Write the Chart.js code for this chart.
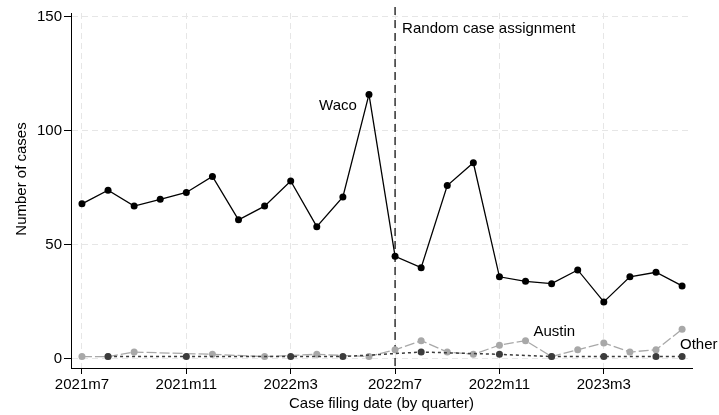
<!DOCTYPE html>
<html>
<head>
    <meta charset="utf-8" />
    <title>Number of cases by filing date</title>
    <script src="https://cdn.jsdelivr.net/npm/chart.js"></script>
    <style>
        body {
            margin: 0;
            padding: 0;
            background: white;
        }
    </style>
</head>
<body>
    <canvas id="grafico" width="719" height="415"></canvas>
    <script>
        // meses 2021m7 .. 2023m6 (posicion x = indice)
        const months = ['2021m7','2021m8','2021m9','2021m10','2021m11','2021m12',
                        '2022m1','2022m2','2022m3','2022m4','2022m5','2022m6',
                        '2022m7','2022m8','2022m9','2022m10','2022m11','2022m12',
                        '2023m1','2023m2','2023m3','2023m4','2023m5','2023m6'];
        const waco   = [68, 74, 67, 70, 73, 80, 61, 67, 78, 58, 71, 116,
                        45, 40, 76, 86, 36, 34, 33, 39, 25, 36, 38, 32];
        const austin = [1, 1, 3, null, null, 2, null, 1, null, 2, null, 1,
                        4, 8, 3, 2, 6, 8, 1, 4, 7, 3, 4, 13];
        const other  = [null, 1, null, null, 1, null, null, null, 1, null, 1, null,
                        null, 3, null, null, 2, null, 1, null, 1, null, 1, 1];
        const xTicks = [0, 4, 8, 12, 16, 20];
        const yTicks = [0, 50, 100, 150];
        const cutoff = 12; // 2022m7

        const font = 'Arial, "Liberation Sans", sans-serif';
        const toPoints = arr => arr.map((v, i) => ({ x: i, y: v }));

        const anotaciones = {
            id: 'anotaciones',
            beforeDatasetsDraw(chart) {
                const { ctx, chartArea, scales } = chart;
                const x = scales.x.getPixelForValue(cutoff);
                ctx.save();
                ctx.strokeStyle = '#000';
                ctx.lineWidth = 1.2;
                ctx.setLineDash([8, 5]);
                ctx.beginPath();
                ctx.moveTo(x, 7);
                ctx.lineTo(x, chartArea.bottom);
                ctx.stroke();
                ctx.restore();
            },
            afterDraw(chart) {
                const { ctx, scales } = chart;
                const sx = scales.x, sy = scales.y;
                ctx.save();
                ctx.fillStyle = '#000';
                ctx.font = '15px ' + font;
                ctx.textBaseline = 'middle';

                ctx.textAlign = 'left';
                ctx.fillText('Random case assignment', sx.getPixelForValue(12.27), sy.getPixelForValue(144.7));
                ctx.textAlign = 'center';
                ctx.fillText('Waco', sx.getPixelForValue(9.81), sy.getPixelForValue(111));
                ctx.fillText('Austin', sx.getPixelForValue(18.1), sy.getPixelForValue(11.8));
                ctx.textAlign = 'left';
                ctx.fillText('Other', sx.getPixelForValue(22.92), sy.getPixelForValue(6.1));

                // titulo eje y
                ctx.translate(22, 179);
                ctx.rotate(-Math.PI / 2);
                ctx.textAlign = 'center';
                ctx.fillText('Number of cases', 0, 0);
                ctx.restore();
            }
        };

        const ctx = document.getElementById('grafico').getContext('2d');
        new Chart(ctx, {
            type: 'line',
            data: {
                datasets: [
                    {
                        label: 'Waco',
                        data: toPoints(waco),
                        borderColor: '#000',
                        backgroundColor: '#000',
                        borderWidth: 1.3,
                        pointRadius: 3.5,
                        pointBorderWidth: 0,
                        order: 0
                    },
                    {
                        label: 'Other',
                        data: toPoints(other),
                        borderColor: '#3c3c3c',
                        backgroundColor: '#3c3c3c',
                        borderWidth: 1.5,
                        borderDash: [3, 3],
                        pointRadius: 3.5,
                        pointBorderWidth: 0,
                        spanGaps: true,
                        order: 1
                    },
                    {
                        label: 'Austin',
                        data: toPoints(austin),
                        borderColor: '#a8a8a8',
                        backgroundColor: '#a8a8a8',
                        borderWidth: 1.3,
                        borderDash: [10, 3],
                        pointRadius: 3.5,
                        pointBorderWidth: 0,
                        spanGaps: true,
                        order: 2
                    }
                ]
            },
            options: {
                responsive: false,
                animation: false,
                layout: { padding: { top: 13, right: 27, left: 0, bottom: 0 } },
                plugins: {
                    legend: { display: false },
                    tooltip: { enabled: false }
                },
                scales: {
                    x: {
                        type: 'linear',
                        min: -0.42,
                        max: 23.38,
                        afterFit: s => { s.height = 47; },
                        afterBuildTicks: s => { s.ticks = xTicks.map(v => ({ value: v })); },
                        grid: {
                            color: '#e6e6e6',
                            lineWidth: 1,
                            tickColor: '#000',
                            tickLength: 6,
                            tickWidth: 1
                        },
                        border: { display: true, color: '#000', width: 1, dash: [6, 4] },
                        ticks: {
                            color: '#000',
                            padding: 2,
                            maxRotation: 0,
                            autoSkip: false,
                            font: { family: font, size: 15 },
                            callback: v => months[v]
                        },
                        title: {
                            display: true,
                            text: 'Case filing date (by quarter)',
                            color: '#000',
                            font: { family: font, size: 15 },
                            padding: { top: 0, bottom: 2 }
                        }
                    },
                    y: {
                        min: -4,
                        max: 151.7,
                        afterFit: s => { s.width = 71; },
                        afterBuildTicks: s => { s.ticks = yTicks.map(v => ({ value: v })); },
                        grid: {
                            color: '#e6e6e6',
                            lineWidth: 1,
                            tickColor: '#000',
                            tickLength: 7,
                            tickWidth: 1
                        },
                        border: { display: true, color: '#000', width: 1, dash: [6, 4] },
                        ticks: {
                            color: '#000',
                            padding: 2,
                            font: { family: font, size: 15 }
                        }
                    }
                }
            },
            plugins: [anotaciones]
        });
    </script>
</body>
</html>
